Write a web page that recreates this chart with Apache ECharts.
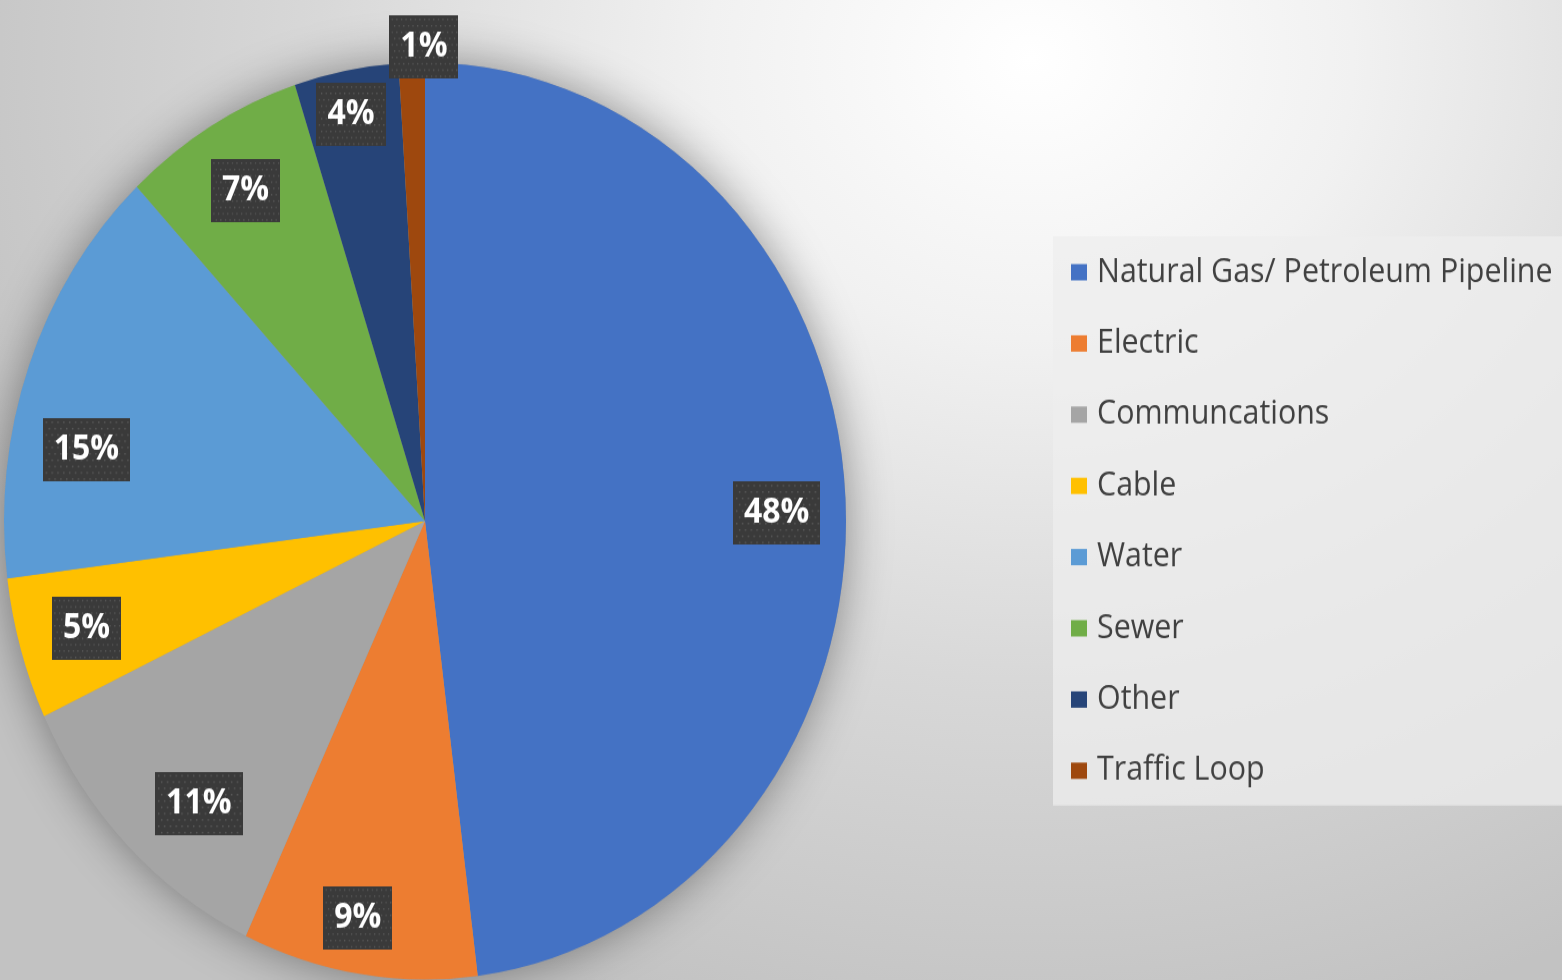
<!DOCTYPE html>
<html>
<head>
<meta charset="utf-8">
<script src="https://cdn.jsdelivr.net/npm/echarts@6/dist/echarts.min.js"></script>
<style>
  html, body { margin: 0; padding: 0; width: 1562px; height: 980px; overflow: hidden; }
  body {
    background: radial-gradient(ellipse 1150px 1000px at 66% 6%, #ffffff 0%, #f1f1f1 28%, #d8d8d8 62%, #c2c2c2 100%);
  }
  /* the original pie is a little taller than wide, so stretch the chart vertically */
  #main {
    position: absolute; left: 0; top: 0;
    width: 1562px; height: 900px;
    transform: scale(1, 1.0889);
    transform-origin: 0 0;
  }
</style>
</head>
<body>
<div id="main"></div>
<script>
// slices, clockwise from 12 o'clock
var categories = ['Natural Gas/ Petroleum Pipeline', 'Electric', 'Communcations', 'Cable', 'Water', 'Sewer', 'Other', 'Traffic Loop'];
var shares = [48, 9, 11, 5, 15, 7, 4, 1];
var colors = ['#4472C4', '#ED7D31', '#A5A5A5', '#FFC000', '#5B9BD5', '#70AD47', '#264478', '#9E480E'];

var center = [425, 478.5];
var R = 421;

var pieData = [];
for (let i = 0; i < categories.length; i++) {
    pieData.push({ name: categories[i], value: shares[i] });
}

// dotted dark fill for the data label boxes
function dottedTile() {
    var c = document.createElement('canvas');
    c.width = 90;
    c.height = 60;
    var ctx = c.getContext('2d');
    ctx.fillStyle = '#3a3a3a';
    ctx.fillRect(0, 0, c.width, c.height);
    ctx.fillStyle = '#5c5c5c';
    for (let y = 3, row = 0; y < c.height; y += 6, row++) {
        for (let x = (row % 2) ? 6 : 3; x < c.width; x += 6) {
            ctx.fillRect(x, y, 1.5, 1.5);
        }
    }
    return c;
}

// nudges so the labels sit where the original put them
var labelNudge = {
    0: [0, 15], 1: [-12, 16], 2: [23, 10], 4: [-7, 54],
    6: [-8, -27], 7: [10, -83]
};

var myChart = echarts.init(document.getElementById('main'));
var option = {
    backgroundColor: 'transparent',
    animation: false,
    color: colors,
    legend: {
        data: categories,
        orient: 'vertical',
        left: 1053,
        top: 217,
        padding: [18, 40, 17, 18],
        backgroundColor: 'rgba(238,238,238,0.75)',
        itemWidth: 16,
        itemHeight: 15,
        itemGap: 35.4,
        icon: 'rect',
        selectedMode: false,
        textStyle: {
            fontFamily: 'Open Sans',
            fontSize: 30.4,
            lineHeight: 30,
            color: '#404040',
            padding: [0, 0, 0, 5]
        }
    },
    series: [
        {
            // soft halo behind the pie
            type: 'pie',
            silent: true,
            center: center,
            radius: R,
            data: [{ name: 'halo', value: 1 }],
            label: { show: false },
            labelLine: { show: false },
            itemStyle: {
                color: '#9a9a9a',
                shadowBlur: 45,
                shadowColor: 'rgba(0,0,0,0.4)'
            }
        },
        {
            name: 'Damage',
            type: 'pie',
            center: center,
            radius: R,
            startAngle: 90,
            clockwise: true,
            data: pieData,
            label: { show: false },
            labelLine: { show: false },
            itemStyle: { borderWidth: 0 },
            emphasis: { disabled: true }
        },
        {
            // transparent ring only used to put the data labels at ~0.83 r
            type: 'pie',
            silent: true,
            center: center,
            radius: [R * 0.66, R],
            startAngle: 90,
            clockwise: true,
            percentPrecision: 0,
            data: pieData,
            itemStyle: { color: 'transparent' },
            emphasis: { disabled: true },
            labelLine: { show: false },
            label: {
                show: true,
                position: 'inside',
                formatter: '{d}%',
                fontFamily: 'Open Sans',
                fontWeight: 'bold',
                fontSize: 32,
                lineHeight: 34,
                color: '#ffffff',
                backgroundColor: { image: dottedTile() },
                padding: [12, 11, 12, 11],
                shadowBlur: 10,
                shadowOffsetX: 4,
                shadowOffsetY: 4,
                shadowColor: 'rgba(0,0,0,0.5)'
            },
            labelLayout: function (params) {
                var n = labelNudge[params.dataIndex];
                if (n) return { dx: n[0], dy: n[1] };
                return {};
            }
        }
    ]
};
myChart.setOption(option);
</script>
</body>
</html>
